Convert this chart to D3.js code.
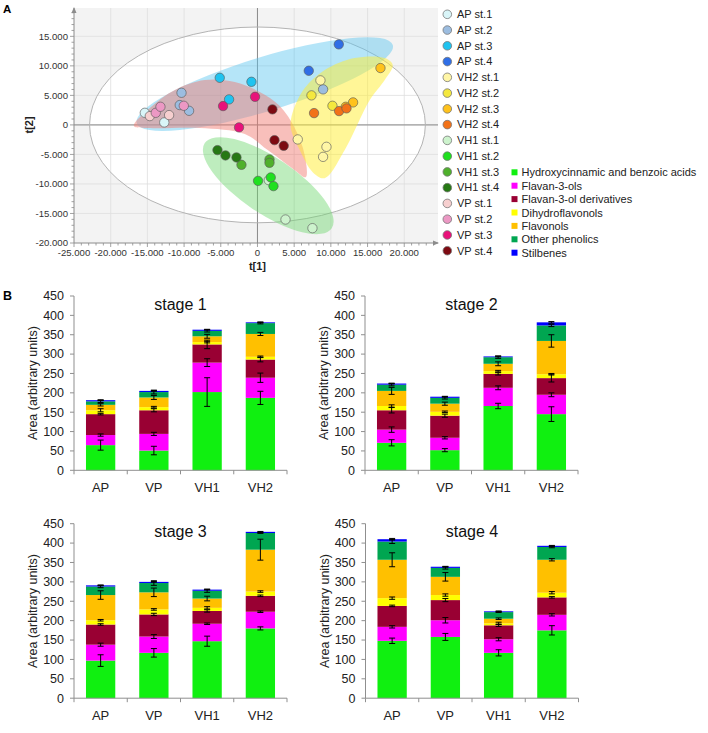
<!DOCTYPE html>
<html><head><meta charset="utf-8">
<script src="https://cdn.jsdelivr.net/npm/d3@7"></script>
<style>body{margin:0;background:#fff;} svg{display:block;font-family:"Liberation Sans",Arial,sans-serif;}</style>
</head><body><svg id="c" width="708" height="733"></svg>
<script>
// ---------------- DATA: panel A (PCA scores) ----------------
const scoreGroups = ["AP st.1","AP st.2","AP st.3","AP st.4","VH2 st.1","VH2 st.2","VH2 st.3","VH2 st.4",
  "VH1 st.1","VH1 st.2","VH1 st.3","VH1 st.4","VP st.1","VP st.2","VP st.3","VP st.4"];
const pointGroup = [0,0, 1,1,1,1, 2,2,2, 3,3, 4,4,4,4, 5,5, 6,6,6, 7,7,7, 8,8,8, 9,9,9, 10,10,10, 11,11,11, 12,12, 13,13,13, 14,14,14, 15,15,15];
const pointT1 = [-12700,-15350, -10350,-10590,-9320,8940, -5140,-820,-3870, 11080,6990,
  8580,5490,9400,8940, 7360,10220, 16760,13030,12030, 7710,11120,12130,
  3820,7490,1540, 80,1810,2180, -2180,1640,1640, -5450,-4360,-2860,
  -14670,-12040, -13860,-13220,-10040, -4690,-330,-2510, 2040,2320,3580];
const pointT2 = [420,2050, 5440,3360,2390,6020, 7980,7300,4320, 13640,9170,
  7540,-2460,-3710,-5410, 5000,3240, 9630,3810,3070, 2000,2340,2800,
  -16020,-17490,-9360, -9480,-8900,-10370, -6760,-5850,-6420, -4270,-5170,-5510,
  1490,1660, 2050,3070,3240, 3190,4760,-420, 2630,-2580,-3540];
const t1Ticks = [-25000,-20000,-15000,-10000,-5000,0,5000,10000,15000,20000];
const t2Ticks = [-20000,-15000,-10000,-5000,0,5000,10000,15000];
// group outlines (score units)
const regionPink = [[-16850,-200],[-14670,2850],[-11260,5900],[-7180,7590],[-3090,7250],[310,5560],[3040,3190],
  [5080,-540],[6440,-5120],[6580,-8850],[5080,-7660],[1400,-4270],[-1730,-1560],[-7860,-540],[-14670,-540]];
const regionYellow = [[4810,2170],[6440,6240],[9170,9290],[13250,11320],[17340,11320],[18430,10140],[17340,7590],
  [15300,4200],[11890,-4270],[9170,-9020],[7530,-8000],[5760,-4270],[4540,-540]];
const regionBlueTips = [[-16450,290],[18440,13540]];
const regionGreenTips = [[-7180,-3080],[10120,-17490]];

// ---------------- DATA: panel B (stacked bars) ----------------
const compounds = ["Hydroxycinnamic and benzoic acids","Flavan-3-ols","Flavan-3-ol derivatives",
  "Dihydroflavonols","Flavonols","Other phenolics","Stilbenes"];
const genotypes = ["AP","VP","VH1","VH2"];
const stageTitles = ["stage 1","stage 2","stage 3","stage 4"];
const barTicks = [0,50,100,150,200,250,300,350,400,450];
// values per genotype, in compound order
const stage1Means = [[65,26,54,10,14,9,3],[51,43,61,8,25,14,3],[202,76,47,6,15,14,3],[187,52,47,7,59,28,2]];
const stage1Errors = [[13,3,2,4,3,3,1],[11,4,4,2,5,5,1],[37,10,11,2,5,3,1],[17,12,6,2,4,2,1]];
const stage2Means = [[71,34,50,11,39,16,3],[52,32,57,10,21,15,3],[166,47,36,7,19,17,2],[145,50,43,10,86,40,8]];
const stage2Errors = [[8,7,7,3,9,3,1],[4,3,4,2,4,3,1],[7,5,3,2,5,3,1],[19,5,10,2,16,3,2]];
const stage3Means = [[97,41,52,11,65,22,3],[117,42,57,13,44,24,3],[147,45,33,8,24,20,3],[180,43,41,11,108,43,3]];
const stage3Errors = [[15,4,2,2,11,3,1],[11,5,3,2,11,6,1],[13,2,3,3,6,4,1],[4,2,2,2,27,1,1]];
const stage4Means = [[148,36,54,20,99,47,6],[158,43,52,13,47,23,3],[117,35,36,5,12,17,2],[175,40,45,12,85,33,3]];
const stage4Errors = [[7,3,2,3,18,5,2],[9,7,4,3,11,3,1],[8,4,3,3,2,1,1],[12,3,2,3,3,2,1]];

// ---------------- STYLES ----------------
const groupColors = ["#d9f5f8","#9cbde0","#1fc3f0","#2f6ee6","#fff6a6","#f4e83e","#ffc21c","#f27218",
  "#cdf3cd","#1fe01f","#4fb02c","#267814","#f6cfcf","#ec98c4","#e8127a","#7d0a12"];
const compoundColors = ["#10f010","#ff00ff","#990033","#ffff00","#ffc000","#00a651","#0000ff"];

const svg = d3.select("#c");
const loc = d3.formatLocale({decimal:",", thousands:".", grouping:[3], currency:["",""], minus:"-"});
const fmt = loc.format(",d");

// ================= PANEL A =================
const L=74, R=438, T=8, B=243;
const x = d3.scaleLinear().domain([-25000,24600]).range([L,R]);
const y = d3.scaleLinear().domain([-20000,19800]).range([B,T]);
const gA = svg.append("g");
svg.append("defs").append("clipPath").attr("id","clipA").append("rect")
  .attr("x",L).attr("y",T).attr("width",R-L).attr("height",B-T);
gA.append("rect").attr("x",L).attr("y",T).attr("width",R-L).attr("height",B-T).attr("fill","#f3f3f3");
const inner = gA.append("g").attr("clip-path","url(#clipA)");
// Hotelling ellipse
const ex = x(0), ey = y(0), erx = x(22880)-x(0), ery = y(0)-y(16580);
inner.append("ellipse").attr("cx",ex).attr("cy",ey).attr("rx",erx).attr("ry",ery).attr("fill","#fff");
// grid
inner.selectAll(".gx").data(t1Ticks.filter(d=>d!==-25000)).join("line")
  .attr("x1",d=>x(d)).attr("x2",d=>x(d)).attr("y1",T).attr("y2",B).attr("stroke","#dedede").attr("stroke-width",0.8);
inner.selectAll(".gy").data(t2Ticks.filter(d=>d!==-20000)).join("line")
  .attr("y1",d=>y(d)).attr("y2",d=>y(d)).attr("x1",L).attr("x2",R).attr("stroke","#dedede").attr("stroke-width",0.8);
inner.append("line").attr("x1",x(0)).attr("x2",x(0)).attr("y1",T).attr("y2",B).attr("stroke","#8a8a8a").attr("stroke-width",1);
inner.append("line").attr("y1",y(0)).attr("y2",y(0)).attr("x1",L).attr("x2",R).attr("stroke","#8a8a8a").attr("stroke-width",1);
inner.append("ellipse").attr("cx",ex).attr("cy",ey).attr("rx",erx).attr("ry",ery).attr("fill","none").attr("stroke","#b4b4b4").attr("stroke-width",1);
// regions
function tipEllipse(tips, hw, color, op){
  const p1=[x(tips[0][0]),y(tips[0][1])], p2=[x(tips[1][0]),y(tips[1][1])];
  const cx=(p1[0]+p2[0])/2, cy=(p1[1]+p2[1])/2;
  const a=Math.hypot(p2[0]-p1[0],p2[1]-p1[1])/2;
  const ang=Math.atan2(p2[1]-p1[1],p2[0]-p1[0])*180/Math.PI;
  inner.append("ellipse").attr("cx",cx).attr("cy",cy).attr("rx",a).attr("ry",hw)
    .attr("transform",`rotate(${ang},${cx},${cy})`).attr("fill",color).attr("fill-opacity",op);
}
const outline = d3.line().x(d=>x(d[0])).y(d=>y(d[1])).curve(d3.curveCatmullRomClosed.alpha(0.5));
tipEllipse(regionBlueTips, 27, "#5cc6f0", 0.45);
tipEllipse(regionGreenTips, 28, "#6fd86f", 0.45);
inner.append("path").attr("d",outline(regionPink)).attr("fill","#f07a70").attr("fill-opacity",0.48);
inner.append("path").attr("d",outline(regionYellow)).attr("fill","#ffee30").attr("fill-opacity",0.5);
// points
inner.selectAll(".pt").data(pointT1.map((v,i)=>({t1:v,t2:pointT2[i],g:pointGroup[i]}))).join("circle")
  .attr("cx",d=>x(d.t1)).attr("cy",d=>y(d.t2)).attr("r",4.7)
  .attr("fill",d=>groupColors[d.g]).attr("stroke","#5a5a5a").attr("stroke-width",0.8).attr("stroke-opacity",0.8);
// axes
const axCol="#8c8c8c";
gA.append("line").attr("x1",L).attr("x2",R).attr("y1",B).attr("y2",B).attr("stroke",axCol);
gA.append("line").attr("x1",L).attr("x2",L).attr("y1",B).attr("y2",T).attr("stroke",axCol);
gA.append("path").attr("d",`M${R+1},${B} l-6,-2.5 l0,5 z`).attr("fill",axCol);
gA.append("path").attr("d",`M${L},${T-1} l-2.5,6 l5,0 z`).attr("fill",axCol);
const minorX = d3.range(-25000,24001,1000), minorY = d3.range(-20000,19001,1000);
gA.selectAll(".mx").data(minorX).join("line").attr("x1",d=>x(d)).attr("x2",d=>x(d))
  .attr("y1",B).attr("y2",d=>d%5000===0?B+4:B+2.5).attr("stroke",axCol).attr("stroke-width",0.8);
gA.selectAll(".my").data(minorY).join("line").attr("y1",d=>y(d)).attr("y2",d=>y(d))
  .attr("x1",L).attr("x2",d=>d%5000===0?L-4:L-2.5).attr("stroke",axCol).attr("stroke-width",0.8);
gA.selectAll(".tlx").data(t1Ticks).join("text").attr("x",d=>x(d)).attr("y",B+12.5)
  .attr("text-anchor","middle").attr("font-size",9.6).attr("fill","#333").text(d=>fmt(d));
gA.selectAll(".tly").data(t2Ticks).join("text").attr("x",L-6).attr("y",d=>y(d)+3.4)
  .attr("text-anchor","end").attr("font-size",9.6).attr("fill","#333").text(d=>fmt(d));
gA.append("text").attr("x",x(0)).attr("y",270).attr("text-anchor","middle").attr("font-size",11)
  .attr("font-weight","bold").attr("fill","#222").text("t[1]");
gA.append("text").attr("transform",`translate(33,${y(0)}) rotate(-90)`).attr("text-anchor","middle")
  .attr("font-size",11).attr("font-weight","bold").attr("fill","#222").text("t[2]");
svg.append("text").attr("x",3).attr("y",13).attr("font-size",11.5).attr("font-weight","bold").text("A");
svg.append("text").attr("x",3).attr("y",300).attr("font-size",12.5).attr("font-weight","bold").text("B");
// legend groups
const lg = svg.append("g");
scoreGroups.forEach((name,i)=>{
  const yy = 14.3 + i*15.76;
  lg.append("circle").attr("cx",447.3).attr("cy",yy).attr("r",4.3).attr("fill",groupColors[i])
    .attr("stroke","#777").attr("stroke-width",0.8);
  lg.append("text").attr("x",457).attr("y",yy+3.8).attr("font-size",11).attr("fill","#222").text(name);
});
compounds.forEach((name,i)=>{
  const yy = 172.3 + i*13.4;
  lg.append("rect").attr("x",511.5).attr("y",yy-3).attr("width",6).attr("height",6).attr("fill",compoundColors[i]);
  lg.append("text").attr("x",521.5).attr("y",yy+4).attr("font-size",11).attr("fill","#222").text(name);
});

// ================= PANEL B =================
const stageMeans = [stage1Means,stage2Means,stage3Means,stage4Means];
const stageErrors = [stage1Errors,stage2Errors,stage3Errors,stage4Errors];
const frames = [
  {left:74, right:287, y0:470.3, y1:296},
  {left:365, right:578, y0:470.3, y1:296},
  {left:74, right:287, y0:698.2, y1:523.7},
  {left:365.5, right:578.5, y0:698.2, y1:523.7}
];
const keys = compounds.map((c,i)=>"k"+i);
frames.forEach((f,s)=>{
  const g = svg.append("g");
  const xb = d3.scaleBand().domain(genotypes).range([f.left,f.right]).paddingInner(0.45).paddingOuter(0.225);
  const yb = d3.scaleLinear().domain([0,450]).range([f.y0,f.y1]);
  const rows = genotypes.map((gname,j)=>{const o={gen:gname}; keys.forEach((k,i)=>o[k]=stageMeans[s][j][i]); return o;});
  const stacked = d3.stack().keys(keys)(rows);
  stacked.forEach((layer,i)=>{
    g.selectAll(null).data(layer).join("rect")
      .attr("x",d=>xb(d.data.gen)).attr("width",xb.bandwidth())
      .attr("y",d=>yb(d[1])).attr("height",d=>Math.max(0,yb(d[0])-yb(d[1])))
      .attr("fill",compoundColors[i]);
  });
  // error bars
  stacked.forEach((layer,i)=>{
    layer.forEach((d,j)=>{
      const e = stageErrors[s][j][i];
      const cx = xb(d.data.gen)+xb.bandwidth()/2;
      const top = yb(d[1]+e), bot = yb(d[1]-e);
      g.append("line").attr("x1",cx).attr("x2",cx).attr("y1",top).attr("y2",bot).attr("stroke","#000").attr("stroke-width",1);
      g.append("line").attr("x1",cx-3).attr("x2",cx+3).attr("y1",top).attr("y2",top).attr("stroke","#000").attr("stroke-width",1);
      g.append("line").attr("x1",cx-3).attr("x2",cx+3).attr("y1",bot).attr("y2",bot).attr("stroke","#000").attr("stroke-width",1);
    });
  });
  // axes
  const ac="#8f8f8f";
  g.append("line").attr("x1",f.left).attr("x2",f.left).attr("y1",f.y0).attr("y2",f.y1).attr("stroke",ac);
  g.append("line").attr("x1",f.left).attr("x2",f.right).attr("y1",f.y0).attr("y2",f.y0).attr("stroke",ac);
  g.selectAll(null).data(barTicks).join("line").attr("x1",f.left-4).attr("x2",f.left)
    .attr("y1",d=>yb(d)).attr("y2",d=>yb(d)).attr("stroke",ac);
  const step = xb.step();
  g.selectAll(null).data(d3.range(5)).join("line")
    .attr("x1",d=>f.left+d*step).attr("x2",d=>f.left+d*step).attr("y1",f.y0).attr("y2",f.y0+4).attr("stroke",ac);
  g.selectAll(null).data(barTicks).join("text").attr("x",f.left-10).attr("y",d=>yb(d)+4.3)
    .attr("text-anchor","end").attr("font-size",12.5).attr("fill","#222").text(d=>d);
  g.selectAll(null).data(genotypes).join("text").attr("x",d=>xb(d)+xb.bandwidth()/2).attr("y",f.y0+21.5)
    .attr("text-anchor","middle").attr("font-size",13).attr("fill","#222").text(d=>d);
  g.append("text").attr("x",(f.left+f.right)/2).attr("y",f.y1+13.5).attr("text-anchor","middle")
    .attr("font-size",16).attr("fill","#111").text(stageTitles[s]);
  g.append("text").attr("transform",`translate(${f.left-37},${(f.y0+f.y1)/2}) rotate(-90)`)
    .attr("text-anchor","middle").attr("font-size",12.5).attr("fill","#222").text("Area (arbitrary units)");
});
</script></body></html>
